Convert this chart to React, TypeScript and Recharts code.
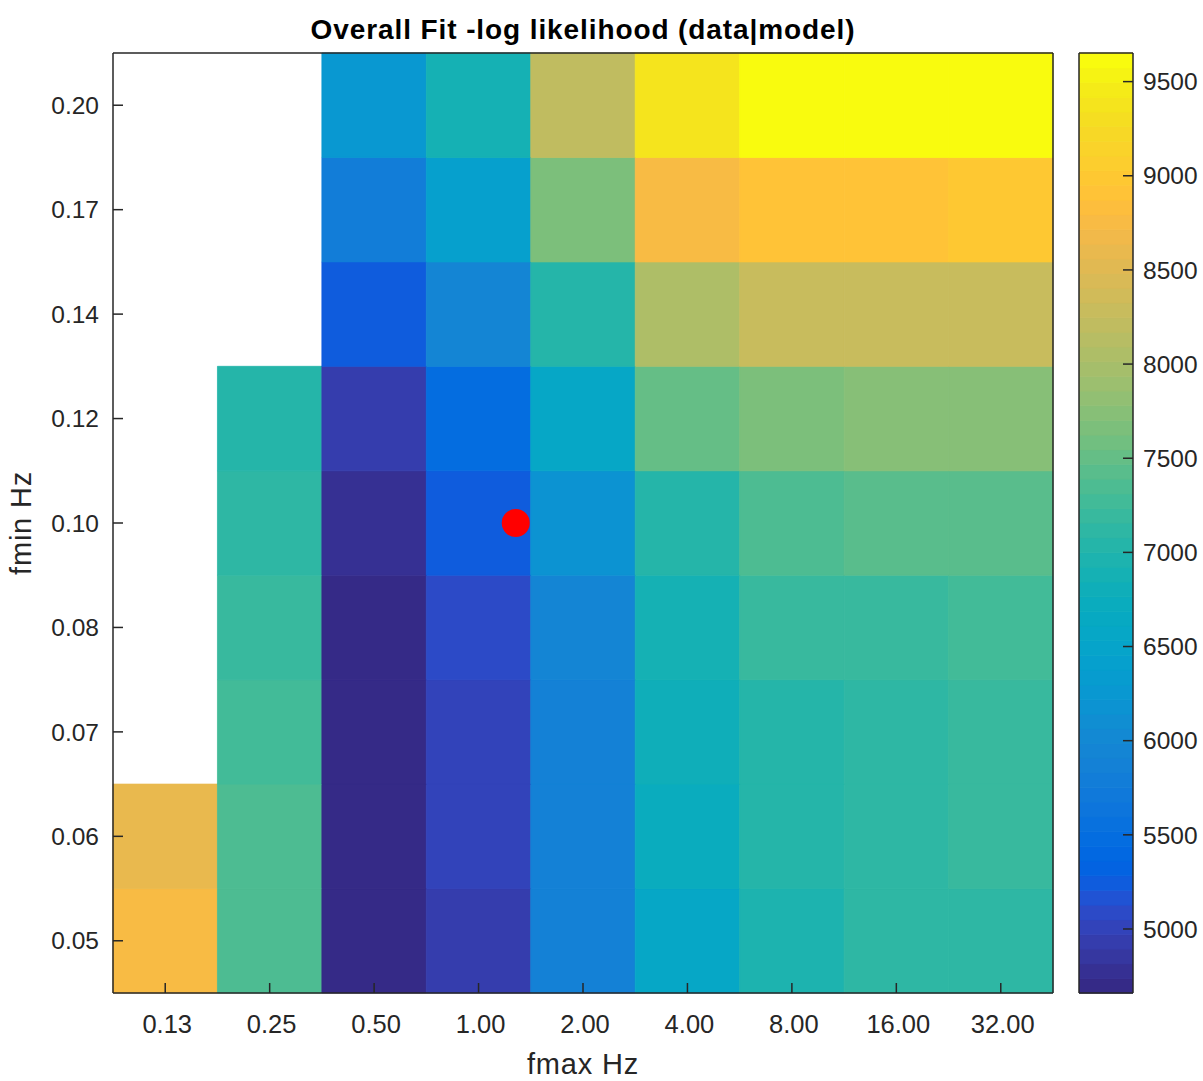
import { ComposedChart, XAxis, YAxis, Scatter, Bar, Cell, ReferenceArea, Label } from 'recharts';

// grid axes
const fmaxHz = [0.125, 0.25, 0.5, 1, 2, 4, 8, 16, 32];
const fminHz = [0.05, 0.06, 0.07, 0.08, 0.1, 0.12, 0.14, 0.17, 0.2];

// -log likelihood, one row per fmin, one value per fmax column (null = not fitted)
const nll_005 = [8752, 7335, 4688, 4931, 5866, 6570, 6958, 7112, 7104];
const nll_006 = [8597, 7341, 4673, 5010, 5872, 6721, 7036, 7118, 7193];
const nll_007 = [null, 7270, 4667, 5014, 5861, 6803, 7041, 7110, 7188];
const nll_008 = [null, 7198, 4660, 5087, 5947, 6880, 7196, 7190, 7276];
const nll_010 = [null, 7117, 4781, 5246, 6175, 7045, 7350, 7425, 7420];
const nll_012 = [null, 7040, 4935, 5478, 6571, 7505, 7660, 7738, 7741];
const nll_014 = [null, null, 5243, 5949, 7038, 8050, 8290, 8286, 8295];
const nll_017 = [null, null, 5790, 6412, 7660, 8754, 8912, 8908, 8985];
const nll_020 = [null, null, 6262, 6881, 8207, 9378, 9631, 9640, 9652];
const nllRows = [nll_005, nll_006, nll_007, nll_008, nll_010, nll_012, nll_014, nll_017, nll_020];

// best fit (red dot)
const bestFmax = [1.28];
const bestFmin = [0.1];

const colorbarTicks = [5000, 5500, 6000, 6500, 7000, 7500, 8000, 8500, 9000, 9500];

// matlab parula, 64 steps
const PARULA = [
  [0.2081, 0.1663, 0.5292], [0.2116, 0.1898, 0.5777], [0.2123, 0.2138, 0.627], [0.2081, 0.2386, 0.6771],
  [0.1959, 0.2645, 0.7279], [0.1707, 0.2919, 0.7792], [0.1253, 0.3242, 0.8303], [0.0591, 0.3598, 0.8683],
  [0.0117, 0.3875, 0.882], [0.006, 0.4086, 0.8828], [0.0165, 0.4266, 0.8786], [0.0329, 0.443, 0.872],
  [0.0498, 0.4586, 0.8641], [0.0629, 0.4737, 0.8554], [0.0723, 0.4887, 0.8467], [0.0779, 0.504, 0.8384],
  [0.0793, 0.52, 0.8312], [0.0749, 0.5375, 0.8263], [0.0641, 0.557, 0.824], [0.0488, 0.5772, 0.8228],
  [0.0343, 0.5966, 0.8199], [0.0265, 0.6137, 0.8135], [0.0239, 0.6287, 0.8038], [0.0231, 0.6418, 0.7913],
  [0.0228, 0.6535, 0.7768], [0.0267, 0.6642, 0.7607], [0.0384, 0.6743, 0.7436], [0.059, 0.6838, 0.7254],
  [0.0843, 0.6928, 0.7062], [0.1133, 0.7015, 0.6859], [0.1453, 0.7098, 0.6646], [0.1801, 0.7177, 0.6424],
  [0.2178, 0.725, 0.6193], [0.2586, 0.7317, 0.5954], [0.3022, 0.7376, 0.5712], [0.3482, 0.7424, 0.5473],
  [0.3953, 0.7459, 0.5244], [0.442, 0.7481, 0.5033], [0.4871, 0.7491, 0.484], [0.53, 0.7491, 0.4661],
  [0.5709, 0.7485, 0.4494], [0.6099, 0.7473, 0.4337], [0.6473, 0.7456, 0.4188], [0.6834, 0.7435, 0.4044],
  [0.7184, 0.7411, 0.3905], [0.7525, 0.7384, 0.3768], [0.7858, 0.7356, 0.3633], [0.8185, 0.7327, 0.3498],
  [0.8507, 0.7299, 0.336], [0.8824, 0.7274, 0.3217], [0.9139, 0.7258, 0.3063], [0.945, 0.7261, 0.2886],
  [0.9739, 0.7314, 0.2666], [0.9938, 0.7455, 0.2403], [0.999, 0.7653, 0.2164], [0.9955, 0.7861, 0.1967],
  [0.988, 0.8066, 0.1794], [0.9789, 0.8271, 0.1633], [0.9697, 0.8481, 0.1475], [0.9626, 0.8705, 0.1309],
  [0.9589, 0.8949, 0.1132], [0.9598, 0.9218, 0.0948], [0.9661, 0.9514, 0.0755], [0.9763, 0.9831, 0.0538],
];

const FONT = '"Liberation Sans", Arial, Helvetica, sans-serif';
const INK = '#262626';

const allVals = nllRows.flat().filter((v) => v != null) as number[];
const cmin = Math.min(...allVals);
const cmax = Math.max(...allVals);

const rgb = (c: number[]) =>
  `rgb(${Math.round(c[0] * 255)},${Math.round(c[1] * 255)},${Math.round(c[2] * 255)})`;

const colorFor = (v: number) => {
  let k = Math.floor(((v - cmin) / (cmax - cmin)) * PARULA.length);
  k = Math.max(0, Math.min(PARULA.length - 1, k));
  return rgb(PARULA[k]);
};

const colIdx = fmaxHz.map((_, i) => i);
const rowIdx = fminHz.map((_, i) => i);

const cells = nllRows.flatMap((row, r) =>
  row.map((v, c) => ({ r, c, v })).filter((d) => d.v != null)
) as { r: number; c: number; v: number }[];

const bestPoint = bestFmax.map((f, i) => ({
  x: Math.log2(f / fmaxHz[0]),
  y: fminHz.indexOf(bestFmin[i]),
}));

// one colorbar strip per colormap entry, bottom (k=0) to top
const bands = PARULA.map((c, k) => ({ k, span: 1, color: rgb(c) }));

const axisLine = { stroke: INK, strokeWidth: 1.5 };
const tickStyle = { fill: INK, fontSize: 24.5, fontFamily: FONT };

function Dot(props: any) {
  return <circle cx={props.cx} cy={props.cy} r={14} fill="#ff0000" />;
}

export default function App() {
  return (
    <div style={{ position: 'absolute', left: 0, top: 0, width: 1203, height: 1081, background: '#fff' }}>
      <div style={{ position: 'absolute', left: 0, top: 0 }}>
        <ComposedChart width={1203} height={1081} margin={{ top: 52, right: 149, bottom: 28, left: 13 }} data={bestPoint}>
          <XAxis
            xAxisId="x"
            type="number"
            dataKey="x"
            domain={[-0.5, 8.5]}
            allowDataOverflow
            ticks={colIdx}
            interval={0}
            tickFormatter={(i: number) => fmaxHz[i].toFixed(2)}
            height={60}
            tickSize={-10}
            tickMargin={32}
            axisLine={axisLine}
            tickLine={axisLine}
            tick={{ ...tickStyle, fontSize: 25.5, dx: 2 }}
          >
            <Label value="fmax Hz" position="bottom" offset={0} fill={INK} fontSize={29} fontFamily={FONT} style={{ letterSpacing: 0.8 }} />
          </XAxis>
          <XAxis
            xAxisId="xt"
            orientation="top"
            type="number"
            domain={[-0.5, 8.5]}
            allowDataOverflow
            ticks={colIdx}
            interval={0}
            height={1}
            tickSize={-10}
            axisLine={axisLine}
            tickLine={axisLine}
            tick={false}
          >
            <Label
              value="Overall Fit -log likelihood (data|model)"
              position="top"
              offset={13}
              fill="#000"
              fontSize={28}
              fontWeight="bold"
              fontFamily={FONT}
              style={{ letterSpacing: 0.9 }}
            />
          </XAxis>
          <YAxis
            yAxisId="y"
            type="number"
            dataKey="y"
            domain={[-0.5, 8.5]}
            allowDataOverflow
            ticks={rowIdx}
            interval={0}
            tickFormatter={(i: number) => fminHz[i].toFixed(2)}
            width={100}
            tickSize={-10}
            tickMargin={24}
            axisLine={axisLine}
            tickLine={axisLine}
            tick={tickStyle}
          >
            <Label
              value="fmin Hz"
              angle={-90}
              position="insideLeft"
              offset={8}
              fill={INK}
              fontSize={29}
              fontFamily={FONT}
              style={{ textAnchor: 'middle', letterSpacing: 0.8 }}
            />
          </YAxis>
          <YAxis
            yAxisId="yr"
            orientation="right"
            type="number"
            domain={[-0.5, 8.5]}
            allowDataOverflow
            ticks={rowIdx}
            interval={0}
            width={1}
            tickSize={-10}
            axisLine={axisLine}
            tickLine={axisLine}
            tick={false}
          />
          {cells.map((d) => (
            <ReferenceArea
              key={`cell-${d.r}-${d.c}`}
              xAxisId="x"
              yAxisId="y"
              x1={d.c - 0.5}
              x2={d.c + 0.5}
              y1={d.r - 0.5}
              y2={d.r + 0.5}
              fill={colorFor(d.v)}
              fillOpacity={1}
              stroke={colorFor(d.v)}
              strokeWidth={0.8}
            />
          ))}
          <Scatter xAxisId="x" yAxisId="y" dataKey="y" shape={Dot} isAnimationActive={false} />
        </ComposedChart>
      </div>

      {/* colorbar strips and frame */}
      <div style={{ position: 'absolute', left: 0, top: 0 }}>
        <ComposedChart
          layout="vertical"
          width={1203}
          height={1081}
          data={bands}
          barCategoryGap={0}
          margin={{ top: 52, right: 70, bottom: 87, left: 1078 }}
        >
          <XAxis xAxisId="cb" type="number" domain={[0, 1]} allowDataOverflow height={1} tick={false} tickLine={false} axisLine={axisLine} />
          <XAxis xAxisId="cbt" orientation="top" type="number" domain={[0, 1]} allowDataOverflow height={1} tick={false} tickLine={false} axisLine={axisLine} />
          <YAxis yAxisId="cbl" type="category" dataKey="k" reversed width={1} tick={false} tickLine={false} axisLine={axisLine} />
          <Bar xAxisId="cb" yAxisId="cbl" dataKey="span" isAnimationActive={false}>
            {bands.map((b) => (
              <Cell key={`band-${b.k}`} fill={b.color} stroke={b.color} strokeWidth={0.6} />
            ))}
          </Bar>
        </ComposedChart>
      </div>

      {/* colorbar value axis */}
      <div style={{ position: 'absolute', left: 0, top: 0 }}>
        <ComposedChart width={1203} height={1081} margin={{ top: 53, right: 0, bottom: 88, left: 1079 }}>
          <XAxis xAxisId="cbx" type="number" domain={[0, 1]} hide />
          <YAxis
            yAxisId="cb"
            orientation="right"
            type="number"
            domain={[cmin, cmax]}
            allowDataOverflow
            ticks={colorbarTicks}
            interval={0}
            width={70}
            tickSize={-10}
            tickMargin={20}
            axisLine={axisLine}
            tickLine={axisLine}
            tick={tickStyle}
          />
        </ComposedChart>
      </div>
    </div>
  );
}
